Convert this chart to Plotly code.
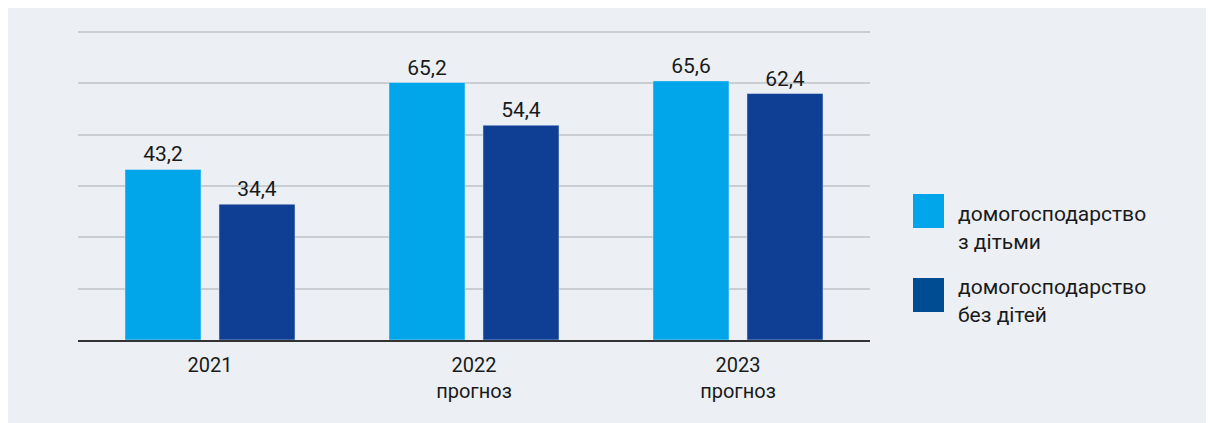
import plotly.graph_objects as go

categories = ["2021", "2022<br>прогноз", "2023<br>прогноз"]
with_children = [43.2, 65.2, 65.6]
without_children = [34.4, 54.4, 62.4]
series_names = ["домогосподарство<br>з дітьми", "домогосподарство<br>без дітей"]
labels_with = ["43,2", "65,2", "65,6"]
labels_without = ["34,4", "54,4", "62,4"]

C_LIGHT = "#00A6E9"
C_DARK = "#0E3F94"
C_DARK_LEG = "#004C93"
PANEL = "#ECF0F4"
FONT = "Roboto"

fig = go.Figure()
fig.add_trace(go.Bar(x=categories, y=with_children, name=series_names[0],
                     marker_color=C_LIGHT, text=labels_with, textposition="outside",
                     textfont=dict(size=21, color="#1a1a1a", family=FONT),
                     cliponaxis=False, showlegend=False))
fig.add_trace(go.Bar(x=categories, y=without_children, name=series_names[1],
                     marker_color=C_DARK, text=labels_without, textposition="outside",
                     textfont=dict(size=21, color="#1a1a1a", family=FONT),
                     cliponaxis=False, showlegend=False))

W, H = 1206, 415
ml, mr, mt, mb = 70, 344, 20, 83
pw, ph = W - ml - mr, H - mt - mb

def px(x):
    return (x - ml) / pw

def py(y):
    return (H - mb - y) / ph

shapes = [
    dict(type="rect", xref="paper", yref="paper", x0=px(905), x1=px(936),
         y0=py(220), y1=py(186), fillcolor=C_LIGHT, line_width=0),
    dict(type="rect", xref="paper", yref="paper", x0=px(905), x1=px(936),
         y0=py(304), y1=py(270), fillcolor=C_DARK_LEG, line_width=0),
]

annotations = []
legend_lines = [("домогосподарство", 206), ("з дітьми", 234),
                ("домогосподарство", 279), ("без дітей", 307)]
for txt, yy in legend_lines:
    annotations.append(dict(text=txt, xref="paper", yref="paper", x=px(948), y=py(yy),
                            xanchor="left", yanchor="middle", showarrow=False,
                            font=dict(size=21, color="#1a1a1a", family=FONT)))

fig.update_layout(
    width=W, height=H,
    margin=dict(l=ml, r=mr, t=mt, b=mb),
    paper_bgcolor=PANEL, plot_bgcolor=PANEL,
    barmode="group", bargap=0.288, bargroupgap=0.191,
    font=dict(family=FONT, size=20, color="#1a1a1a"),
    shapes=shapes, annotations=annotations,
    xaxis=dict(showgrid=False, showline=True, linecolor="#333333", linewidth=1.5,
               ticks="", ticklabelstandoff=6,
               tickfont=dict(size=20, family=FONT, color="#1a1a1a")),
    yaxis=dict(range=[0, 79], dtick=13, showticklabels=False, gridcolor="#C9CED3",
               gridwidth=1.5, zeroline=False, showline=False),
)

fig.write_html("out.html")
